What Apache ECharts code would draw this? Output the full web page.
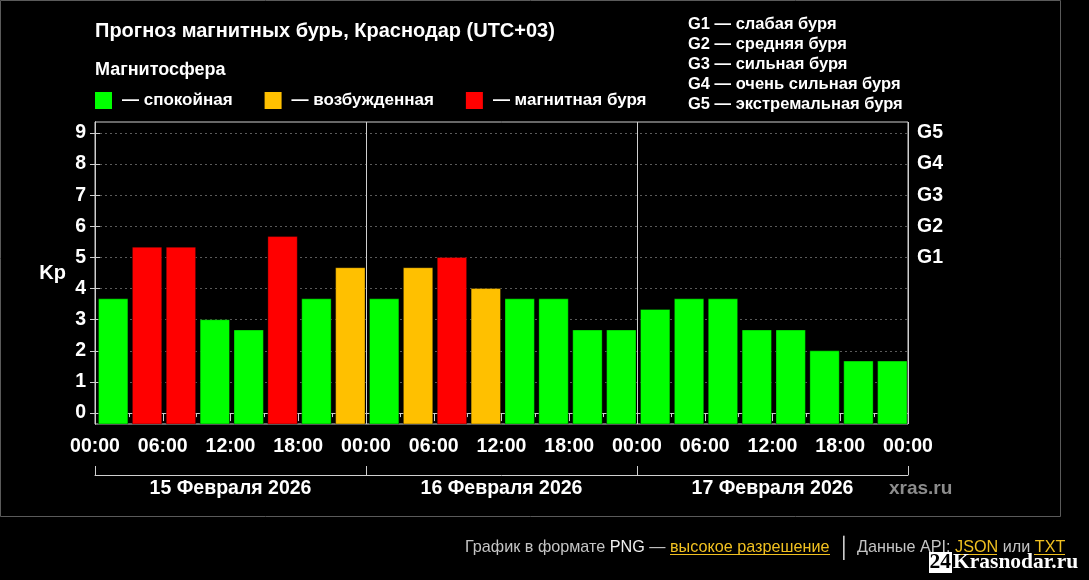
<!DOCTYPE html>
<html><head><meta charset="utf-8">
<script src="https://cdn.jsdelivr.net/npm/echarts@6/dist/echarts.min.js"></script>
<style>html,body{margin:0;padding:0;background:#000;}#c{width:1089px;height:580px;}</style>
</head><body><div id="c"></div>
<script>
// ---- data ----
const kpValues = [3.67, 5.33, 5.33, 3.0, 2.67, 5.67, 3.67, 4.67,
                  3.67, 4.67, 5.0, 4.0, 3.67, 3.67, 2.67, 2.67,
                  3.33, 3.67, 3.67, 2.67, 2.67, 2.0, 1.67, 1.67];
const status = ['g','r','r','g','g','r','g','y',
                'g','y','r','y','g','g','g','g',
                'g','g','g','g','g','g','g','g'];
const hourLabels = ['00:00','06:00','12:00','18:00','00:00','06:00','12:00','18:00','00:00','06:00','12:00','18:00','00:00'];
const dayLabels = ['15 Февраля 2026','16 Февраля 2026','17 Февраля 2026'];
const kpTicks = [0,1,2,3,4,5,6,7,8,9];
const gTicks = [5,6,7,8,9];
const gLabels = ['G1','G2','G3','G4','G5'];
const gLegend = ['G1 — слабая буря','G2 — средняя буря','G3 — сильная буря','G4 — очень сильная буря','G5 — экстремальная буря'];
const statusNames = {g:'— спокойная', y:'— возбужденная', r:'— магнитная буря'};
const statusColors = {g:'#00ff00', y:'#ffc000', r:'#ff0000'};
// -------------------------------------

const FONT = 'Liberation Sans, Arial, sans-serif';
const chart = echarts.init(document.getElementById('c'));

function renderBar(params, api) {
  const x0 = api.value(0), v = api.value(1);
  const top = api.coord([x0, v]);
  const right = api.coord([x0 + 3, v]);
  const cs = params.coordSys;
  const bottom = cs.y + cs.height;
  return {
    type: 'rect',
    shape: { x: top[0] + 3.5, y: top[1], width: right[0] - top[0] - 4.5, height: bottom - top[1] },
    style: { fill: api.visual('color'), stroke: 'rgba(0,0,0,0.35)', lineWidth: 1 }
  };
}

const series = ['g','y','r'].map(s => ({
  type: 'custom',
  name: statusNames[s],
  xAxisIndex: 0, yAxisIndex: 0,
  itemStyle: { color: statusColors[s] },
  renderItem: renderBar,
  clip: false,
  data: kpValues.map((v, i) => status[i] === s ? [i * 3, v] : null).filter(d => d)
}));

const axisCol = '#cfcfcf';
const LBL = 19.5;
const option = {
  backgroundColor: '#000',
  animation: false,
  textStyle: { fontFamily: FONT },
  title: [
    { text: 'Прогноз магнитных бурь, Краснодар (UTC+03)', left: 95, top: 21, padding: 0,
      textStyle: { color: '#fff', fontSize: 20, fontWeight: 'bold', fontFamily: FONT } },
    { text: 'Магнитосфера', left: 95, top: 61, padding: 0,
      textStyle: { color: '#fff', fontSize: 18, fontWeight: 'bold', fontFamily: FONT } },
    { text: gLegend.join('\n'), left: 688, top: 14, padding: 0,
      textStyle: { color: '#fff', fontSize: 16.5, fontWeight: 'bold', lineHeight: 20, fontFamily: FONT } },
    { text: 'xras.ru', left: 889, top: 479, padding: 0,
      textStyle: { color: '#8c8c8c', fontSize: 19, fontWeight: 'bold', fontFamily: FONT } },
    { text: '{a|График в формате }{w|PNG}{a| — }{b|высокое разрешение}{c|│}{a|Данные API: }{b|JSON}{a| или }{b|TXT}',
      left: 465, top: 538, padding: 0,
      textStyle: { fontFamily: FONT, fontWeight: 'normal', rich: {
        a: { color: '#c4c4c4', fontSize: 16.2, fontWeight: 'normal', fontFamily: FONT },
        w: { color: '#f0f0f0', fontSize: 16.2, fontWeight: 'normal', fontFamily: FONT },
        b: { color: '#f0c020', fontSize: 16.2, fontWeight: 'normal', fontFamily: FONT },
        c: { color: '#e0e0e0', fontSize: 20, fontWeight: 'normal', fontFamily: FONT, padding: [0, 6, 0, 9] }
      } } }
  ],
  legend: {
    left: 95, top: 92, padding: 0, icon: 'rect', itemWidth: 17, itemHeight: 17, itemGap: 32,
    selectedMode: false,
    textStyle: { color: '#fff', fontSize: 17, fontWeight: 'bold', fontFamily: FONT, padding: [0, 0, 0, 5] },
    data: series.map(s => s.name)
  },
  grid: [
    { left: 95, top: 122, width: 813, height: 302, show: true, borderColor: axisCol, borderWidth: 1 },
    { left: 95, top: 466, width: 813, height: 9, show: false }
  ],
  xAxis: [
    { type: 'value', gridIndex: 0, position: 'bottom', min: 0, max: 72, interval: 6,
      axisLine: { show: true, lineStyle: { color: axisCol } },
      axisTick: { show: true, length: 8, lineStyle: { color: axisCol } },
      minorTick: { show: true, splitNumber: 2, length: 4, lineStyle: { color: axisCol } },
      splitLine: { show: false },
      axisLabel: { color: '#fff', fontSize: LBL, fontWeight: 'bold', fontFamily: FONT, margin: 13,
        formatter: v => hourLabels[Math.round(v / 6)] } },
    { type: 'value', gridIndex: 0, position: 'top', min: 0, max: 72, interval: 24,
      axisLine: { show: false }, axisTick: { show: false }, axisLabel: { show: false },
      splitLine: { show: true, lineStyle: { color: axisCol, width: 1, type: 'solid' } } },
    { type: 'value', gridIndex: 1, position: 'bottom', min: 0, max: 72, interval: 24,
      axisLine: { show: true, lineStyle: { color: axisCol } },
      axisTick: { show: true, inside: true, length: 9, lineStyle: { color: axisCol } },
      splitLine: { show: false },
      axisLabel: { color: '#fff', fontSize: LBL, fontWeight: 'bold', fontFamily: FONT, margin: 4,
        customValues: [12, 36, 60],
        formatter: v => dayLabels[Math.round((v - 12) / 24)] } }
  ],
  yAxis: [
    { type: 'value', gridIndex: 0, position: 'left', min: -0.35, max: 9.35,
      name: 'Kp', nameLocation: 'middle', nameRotate: 0, nameGap: 29,
      nameTextStyle: { color: '#fff', fontSize: 20, fontWeight: 'bold', fontFamily: FONT },
      axisLine: { show: true, lineStyle: { color: axisCol } },
      axisTick: { show: true, length: 5, customValues: kpTicks, lineStyle: { color: axisCol } },
      axisLabel: { color: '#fff', fontSize: LBL, fontWeight: 'bold', fontFamily: FONT, margin: 9,
        customValues: kpTicks },
      splitLine: { show: true, lineStyle: { color: '#5a5a5a', type: [2, 3], width: 1 } } },
    { type: 'value', gridIndex: 0, position: 'right', min: -0.35, max: 9.35,
      axisLine: { show: true, lineStyle: { color: axisCol } },
      axisTick: { show: true, length: 5, customValues: kpTicks, lineStyle: { color: axisCol } },
      axisLabel: { color: '#fff', fontSize: LBL, fontWeight: 'bold', fontFamily: FONT, margin: 9,
        customValues: gTicks, formatter: v => gLabels[gTicks.indexOf(Math.round(v))] },
      splitLine: { show: false } },
    { type: 'value', gridIndex: 1, min: 0, max: 1, show: false }
  ],
  graphic: [
    { type: 'rect', silent: true, shape: { x: 0.5, y: 0.5, width: 1060, height: 516 },
      style: { fill: 'none', stroke: '#5a5a5a', lineWidth: 1 } },
    { type: 'line', shape: { x1: 670, y1: 554.5, x2: 830, y2: 554.5 }, style: { stroke: '#f0c020', lineWidth: 1 } },
    { type: 'line', shape: { x1: 954, y1: 554.5, x2: 997, y2: 554.5 }, style: { stroke: '#f0c020', lineWidth: 1 } },
    { type: 'line', shape: { x1: 1034, y1: 554.5, x2: 1065, y2: 554.5 }, style: { stroke: '#f0c020', lineWidth: 1 } },
    { type: 'rect', shape: { x: 929, y: 552, width: 23, height: 21 }, style: { fill: '#fff' } },
    { type: 'text', x: 929.5, y: 551.5,
      style: { text: '24', fill: '#000', font: 'bold 21.5px "Liberation Serif", serif' } },
    { type: 'text', x: 953, y: 551.5,
      style: { text: 'Krasnodar.ru', fill: '#fff', font: 'bold 21.5px "Liberation Serif", serif' } }
  ],
  series: series
};
chart.setOption(option);
</script>
</body></html>
